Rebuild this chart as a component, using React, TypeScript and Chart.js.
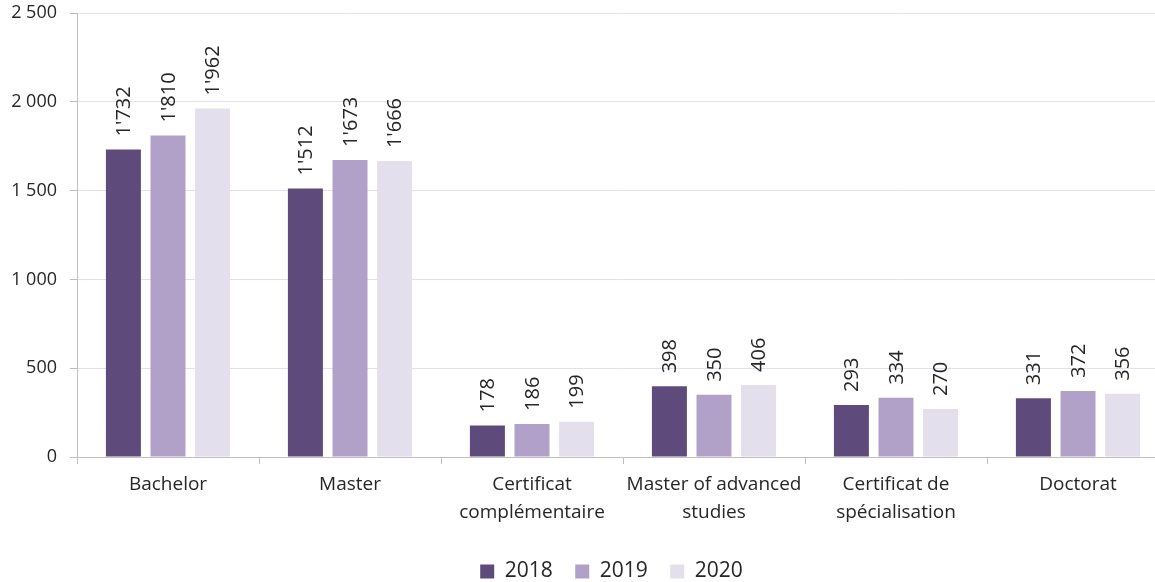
import React, { useEffect, useRef } from 'react';
import { Chart, registerables } from 'chart.js';

Chart.register(...registerables);

const categories: string[][] = [
  ['Bachelor'],
  ['Master'],
  ['Certificat', 'complémentaire'],
  ['Master of advanced', 'studies'],
  ['Certificat de', 'spécialisation'],
  ['Doctorat'],
];
const years = ['2018', '2019', '2020'];
const values2018 = [1732, 1512, 178, 398, 293, 331];
const values2019 = [1810, 1673, 186, 350, 334, 372];
const values2020 = [1962, 1666, 199, 406, 270, 356];
const yTicks = [0, 500, 1000, 1500, 2000, 2500];
const colors = ['#5f4b7b', '#b1a1c8', '#e4dfec'];

const FONT = "'Open Sans', sans-serif";
const TEXT = '#262626';

function fmtLabel(v: number): string {
  if (v >= 1000) return Math.floor(v / 1000) + "'" + String(v % 1000).padStart(3, '0');
  return String(v);
}
function fmtTick(v: number): string {
  if (v >= 1000) return Math.floor(v / 1000) + ' ' + String(v % 1000).padStart(3, '0');
  return String(v);
}

const valueLabels = {
  id: 'valueLabels',
  afterDatasetsDraw(chart: any) {
    const ctx = chart.ctx;
    ctx.save();
    ctx.font = `20px ${FONT}`;
    ctx.fillStyle = TEXT;
    chart.data.datasets.forEach((ds: any, di: number) => {
      const meta = chart.getDatasetMeta(di);
      meta.data.forEach((el: any, i: number) => {
        const v = ds.data[i];
        ctx.save();
        ctx.translate(el.x + 1, el.y - 13);
        ctx.rotate(-Math.PI / 2);
        ctx.textAlign = 'left';
        ctx.textBaseline = 'middle';
        ctx.fillText(fmtLabel(v), 0, 0);
        ctx.restore();
      });
    });
    ctx.restore();
  },
};

const shiftLegend = {
  id: 'shiftLegend',
  afterLayout(chart: any) {
    if (chart.legend) {
      chart.legend.left += 27;
      chart.legend.right += 27;
    }
  },
};

export default function App() {
  const ref = useRef<HTMLCanvasElement>(null);
  useEffect(() => {
    if (!ref.current) return;
    const sets = [values2018, values2019, values2020];
    const chart = new Chart(ref.current, {
      type: 'bar',
      data: {
        labels: categories,
        datasets: years.map((y, i) => ({
          label: y,
          data: sets[i],
          backgroundColor: colors[i],
          borderWidth: 0,
          categoryPercentage: 0.735,
          barPercentage: 0.785,
        })),
      },
      options: {
        responsive: false,
        animation: false,
        devicePixelRatio: 1,
        layout: { padding: { top: 13, right: 1, left: 0, bottom: 0 } },
        plugins: {
          tooltip: { enabled: false },
          legend: {
            position: 'bottom',
            labels: {
              boxWidth: 14,
              boxHeight: 14,
              padding: 22.5,
              color: TEXT,
              font: { family: FONT, size: 21 },
            },
          },
        },
        scales: {
          x: {
            afterFit: (s: any) => { s.height = 81.5; },
            border: { color: '#bfbfbf', width: 1 },
            grid: {
              drawOnChartArea: false,
              drawTicks: true,
              tickLength: 7,
              tickColor: '#bfbfbf',
              offset: true,
            },
            ticks: {
              color: TEXT,
              padding: 7,
              maxRotation: 0,
              autoSkip: false,
              font: { family: FONT, size: 19, lineHeight: 1.45 },
            },
          },
          y: {
            min: 0,
            max: 2500,
            afterFit: (s: any) => { s.width = 77; s.paddingTop = 0; s.paddingBottom = 0; },
            afterBuildTicks: (s: any) => { s.ticks = yTicks.map((v) => ({ value: v })); },
            border: { color: '#bfbfbf', width: 1 },
            grid: {
              color: '#e3dfee',
              tickColor: '#bfbfbf',
              tickLength: 7,
              drawTicks: true,
            },
            ticks: {
              color: TEXT,
              padding: 13,
              font: { family: FONT, size: 18 },
              callback: (v: any) => fmtTick(Number(v)),
            },
          },
        },
      },
      plugins: [valueLabels, shiftLegend],
    });
    return () => chart.destroy();
  }, []);
  return (
    <div style={{ position: 'absolute', left: 0, top: 0, width: 1155, height: 582, overflow: 'hidden', background: '#fff' }}>
      <canvas ref={ref} width={1170} height={592} style={{ display: 'block', width: 1170, height: 592 }} />
    </div>
  );
}
